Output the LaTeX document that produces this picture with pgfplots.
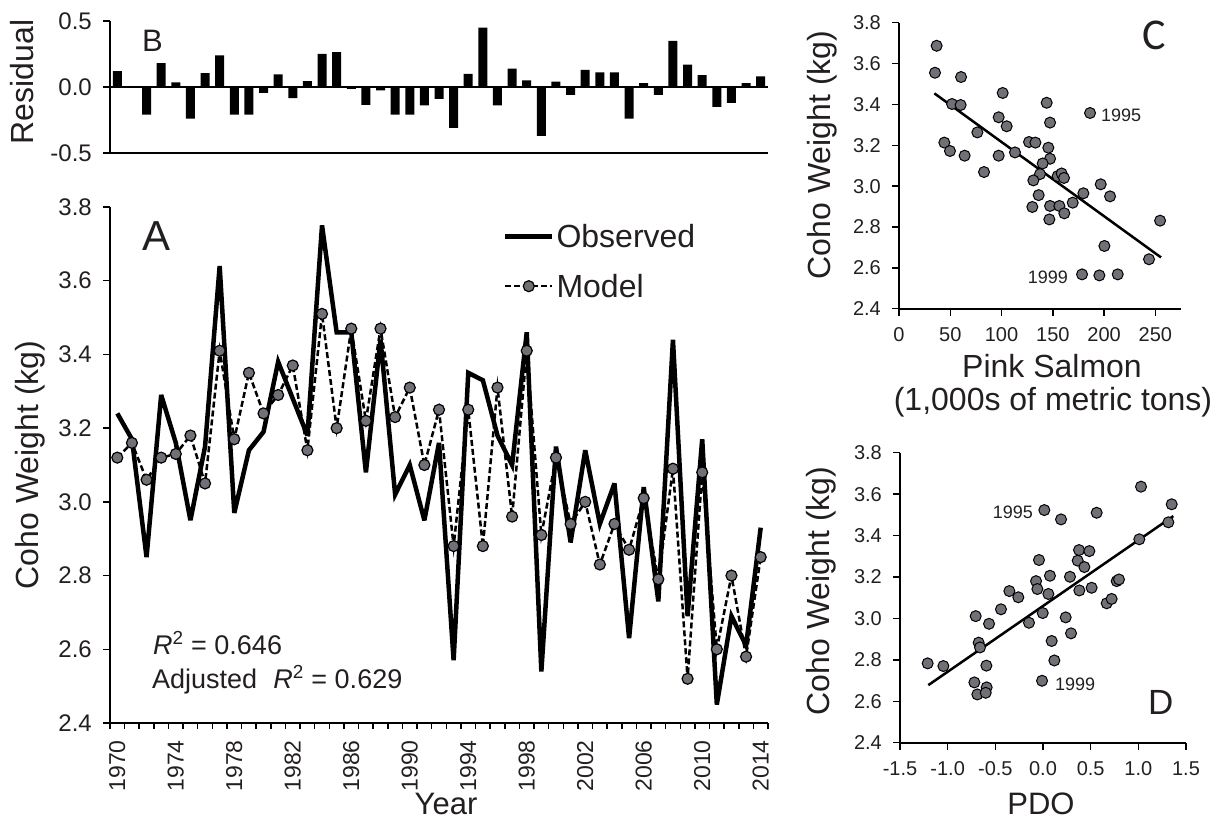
\documentclass[border=0pt]{standalone}
\usepackage{fontspec}
\setmainfont{Liberation Sans}
\newfontfamily\carlito{Carlito}
\usepackage{pgfplots}
\usepackage{pgfplotstable}
\pgfplotsset{compat=1.18}

\definecolor{txt}{RGB}{35,31,32}
\definecolor{dot}{RGB}{112,112,118}
\newcommand{\fs}[1]{\fontsize{#1}{#1}\selectfont}

% year, observed, model, residual
\pgfplotstableread{
year obs model res
1970 3.24 3.12 0.12
1971 3.17 3.16 0.005
1972 2.85 3.06 -0.21
1973 3.29 3.12 0.18
1974 3.16 3.13 0.035
1975 2.95 3.18 -0.24
1976 3.15 3.05 0.105
1977 3.64 3.41 0.24
1978 2.97 3.17 -0.21
1979 3.14 3.35 -0.21
1980 3.19 3.24 -0.045
1981 3.38 3.29 0.095
1982 3.28 3.37 -0.085
1983 3.18 3.14 0.045
1984 3.75 3.51 0.25
1985 3.46 3.20 0.265
1986 3.46 3.47 -0.015
1987 3.08 3.22 -0.135
1988 3.44 3.47 -0.025
1989 3.02 3.23 -0.21
1990 3.10 3.31 -0.21
1991 2.95 3.10 -0.14
1992 3.16 3.25 -0.09
1993 2.57 2.88 -0.31
1994 3.35 3.25 0.10
1995 3.33 2.88 0.45
1996 3.18 3.31 -0.14
1997 3.10 2.96 0.14
1998 3.46 3.41 0.05
1999 2.54 2.91 -0.37
2000 3.15 3.12 0.04
2001 2.89 2.94 -0.06
2002 3.14 3.00 0.13
2003 2.94 2.83 0.11
2004 3.05 2.94 0.11
2005 2.63 2.87 -0.24
2006 3.04 3.01 0.03
2007 2.73 2.79 -0.06
2008 3.44 3.09 0.35
2009 2.69 2.52 0.17
2010 3.17 3.08 0.09
2011 2.45 2.60 -0.15
2012 2.69 2.80 -0.12
2013 2.61 2.58 0.03
2014 2.93 2.85 0.08
}\series

% pink salmon vs coho weight
\pgfplotstableread{
x y
36.7 3.687
35.1 3.555
60.5 3.534
51.7 3.402
60.1 3.397
101.1 3.456
97.2 3.337
105.0 3.293
76.4 3.263
44.2 3.213
49.7 3.172
64.0 3.149
82.9 3.069
97.2 3.149
113.1 3.165
126.8 3.216
133.0 3.213
144.0 3.408
147.3 3.311
145.6 3.188
147.3 3.134
140.1 3.111
137.5 3.059
131.0 3.028
154.7 3.049
158.6 3.062
160.9 3.040
136.2 2.956
130.0 2.898
147.3 2.903
156.4 2.903
146.6 2.837
161.2 2.867
169.4 2.919
179.8 2.965
196.7 3.009
205.8 2.950
186.3 3.358
254.6 2.831
243.8 2.642
200.3 2.707
178.5 2.568
195.4 2.563
213.3 2.568
}\pink

% PDO vs coho weight
\pgfplotstableread{
x y
-1.210 2.783
-1.045 2.770
-0.706 3.011
-0.675 2.883
-0.661 2.860
-0.566 2.974
-0.594 2.772
-0.720 2.691
-0.591 2.667
-0.689 2.633
-0.601 2.641
-0.441 3.044
-0.353 3.132
-0.259 3.102
-0.147 2.979
-0.073 3.180
-0.059 3.142
-0.042 3.282
-0.003 3.026
0.056 3.118
0.073 3.206
0.014 3.523
0.189 3.478
-0.010 2.699
0.091 2.891
0.119 2.797
0.238 3.005
0.294 2.928
0.283 3.201
0.364 3.279
0.378 3.330
0.486 3.325
0.434 3.248
0.381 3.135
0.510 3.148
0.563 3.510
0.668 3.073
0.720 3.094
0.773 3.180
0.797 3.188
1.010 3.382
1.028 3.636
1.315 3.464
1.350 3.551
}\pdo

\pgfplotsset{
  panel/.style={
    scale only axis,
    axis x line*=bottom, axis y line*=left,
    axis line style={line width=2pt, black},
    tick align=outside,
    major tick length=7pt,
    minor tick length=6pt,
    tick style={line width=1.5pt, black},
    /pgf/number format/assume math mode=true,
    tick label style={text=txt, inner sep=0pt},
    xticklabel shift=12pt,
    yticklabel shift=11pt,
    yticklabel style={/pgf/number format/fixed, /pgf/number format/fixed zerofill,
      /pgf/number format/precision=1},
  },
  dots/.style={only marks, mark=*, mark size=5.5pt,
    mark options={fill=dot, draw=black, line width=1pt}},
}

\begin{document}
\begin{tikzpicture}
\path[use as bounding box] (0pt,0pt) rectangle (1215pt,-821pt);

% panel B: residuals
\begin{axis}[panel,
  at={(110pt,-153pt)}, anchor=south west,
  width=658pt, height=132pt,
  xmin=1969.5, xmax=2014.5, ymin=-0.5, ymax=0.5,
  xtick=\empty, ytick={-0.5,0,0.5},
  yticklabel style={font=\fs{24}}]
\addplot[ybar, bar width=9pt, fill=black, draw=none] table[x=year, y=res] {\series};
\addplot[line width=2pt, black] coordinates {(1969.5,0) (2014.5,0)};
\end{axis}

% panel A: observed and model
\begin{axis}[panel,
  at={(110pt,-723pt)}, anchor=south west,
  width=658pt, height=516pt,
  xmin=1969.5, xmax=2014.5, ymin=2.4, ymax=3.8,
  xtick={1970,1974,...,2014},
  minor xtick={1969.5,1970.5,...,2014.5},
  every major x tick/.append style={draw=none},
  xticklabel shift=10pt,
  xticklabel style={rotate=90, anchor=east, font=\fs{23},
    /pgf/number format/1000 sep={}},
  ytick={2.4,2.6,2.8,3.0,3.2,3.4,3.6,3.8},
  yticklabel style={font=\fs{24}},
  legend style={at={(0.597,0.971)}, anchor=north west, draw=none, fill=none,
    font=\fs{32}, text=txt, inner sep=0pt, row sep=21pt,
    nodes={inner sep=2pt}},
  legend cell align=left,
  legend image code/.code={\draw[mark repeat=2, mark phase=2, #1]
    plot coordinates {(0pt,0pt) (23.5pt,0pt) (47pt,0pt)};}]
\addplot[line width=4.5pt, black, miter limit=4] table[x=year, y=obs] {\series};
\addlegendentry{Observed}
\addplot[line width=2.5pt, black, dash pattern=on 6pt off 3pt, mark=*, mark size=5.5pt,
  mark options={solid, fill=dot, draw=black, line width=1.2pt}]
  table[x=year, y=model] {\series};
\addlegendentry{Model}
\end{axis}

% panel C: pink salmon
\begin{axis}[panel,
  at={(899pt,-308.7pt)}, anchor=south west,
  width=282pt, height=286pt,
  xmin=0, xmax=275, ymin=2.4, ymax=3.8,
  xtick={0,50,100,150,200,250},
  ytick={2.4,2.6,2.8,3.0,3.2,3.4,3.6,3.8},
  tick label style={font=\fs{20}}]
\addplot[dots] table {\pink};
\addplot[line width=2.5pt, black] coordinates {(34.5,3.454) (255.5,2.651)};
\end{axis}

% panel D: PDO
\begin{axis}[panel,
  at={(900pt,-742.7pt)}, anchor=south west,
  width=286pt, height=290pt,
  xmin=-1.5, xmax=1.5, ymin=2.4, ymax=3.8,
  xtick={-1.5,-1,-0.5,0,0.5,1,1.5},
  xticklabel style={/pgf/number format/fixed, /pgf/number format/fixed zerofill,
    /pgf/number format/precision=1},
  ytick={2.4,2.6,2.8,3.0,3.2,3.4,3.6,3.8},
  tick label style={font=\fs{20}}]
\addplot[dots] table {\pdo};
\addplot[line width=2.5pt, black] coordinates {(-1.203,2.678) (1.367,3.494)};
\end{axis}

% labels
\begin{scope}[every node/.style={text=txt, inner sep=0pt}]
\node[font=\fs{31}, anchor=base west] at (142pt,-52pt) {B};
\node[font=\fs{42}, anchor=base west] at (142pt,-250pt) {A};
\node[font={\carlito\fs{44}}, anchor=base west] at (1142pt,-50pt) {C};
\node[font=\fs{35}, anchor=base west] at (1148pt,-714pt) {D};
\node[font=\fs{32}, rotate=90] at (22pt,-82pt) {Residual};
\node[font=\fs{32}, rotate=90] at (30pt,-465pt) {Coho Weight (kg)};
\node[font=\fs{31}, anchor=base] at (446pt,-814pt) {Year};
\node[font=\fs{27}, anchor=base west] at (153pt,-654pt) {\textit{R}\textsuperscript{2} = 0.646};
\node[font=\fs{27}, anchor=base west] at (152pt,-688pt) {Adjusted\hspace{0.6em}\textit{R}\textsuperscript{2} = 0.629};
\node[font=\fs{32}, rotate=90] at (822pt,-155pt) {Coho Weight (kg)};
\node[font=\fs{32}, anchor=base] at (1052pt,-377pt) {Pink Salmon};
\node[font=\fs{32}, anchor=base] at (1053pt,-410pt) {(1,000s of metric tons)};
\node[font=\fs{18}, anchor=base west] at (1101pt,-122pt) {1995};
\node[font=\fs{18}, anchor=base east] at (1068pt,-283pt) {1999};
\node[font=\fs{32}, rotate=90] at (821pt,-591pt) {Coho Weight (kg)};
\node[font=\fs{31}, anchor=base] at (1041pt,-814pt) {PDO};
\node[font=\fs{18}, anchor=base east] at (1033pt,-518pt) {1995};
\node[font=\fs{18}, anchor=base west] at (1055pt,-690pt) {1999};
\end{scope}
\end{tikzpicture}
\end{document}
